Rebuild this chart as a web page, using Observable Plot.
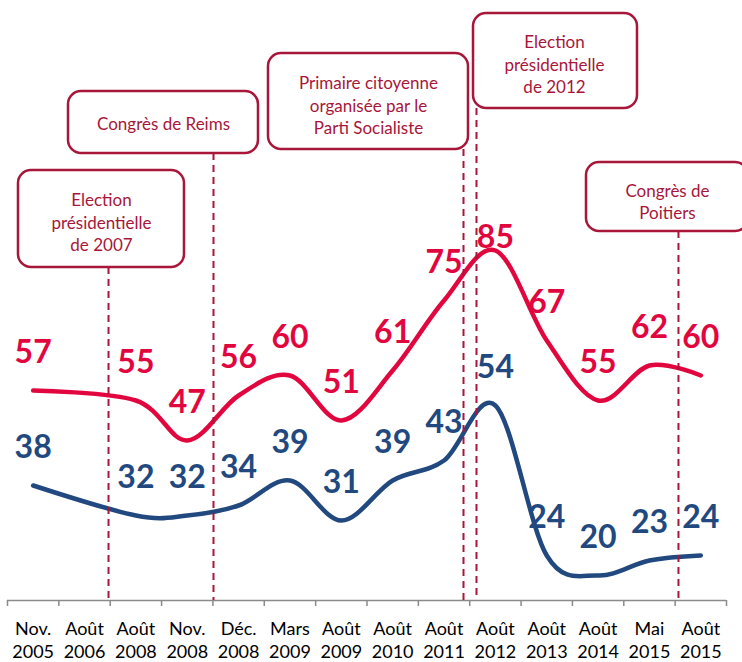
<!DOCTYPE html>
<html>
<head>
<meta charset="utf-8">
<script src="https://cdn.jsdelivr.net/npm/d3@7"></script>
<script src="https://cdn.jsdelivr.net/npm/@observablehq/plot@0.6"></script>
<style>
  body { margin: 0; background: #fff; }
  #chart svg { display: block; }
</style>
</head>
<body>
<div id="chart"></div>
<script>
// Categories (x axis)
const categories = ["Nov.\n2005", "Août\n2006", "Août\n2008", "Nov.\n2008", "Déc.\n2008", "Mars\n2009",
  "Août\n2009", "Août\n2010", "Août\n2011", "Août\n2012", "Août\n2013", "Août\n2014", "Mai\n2015", "Août\n2015"];
// Series values (null = no survey)
const redValues  = [57, null, 55, 47, 56, 60, 51, 61, 75, 85, 67, 55, 62, 60];
const blueValues = [38, null, 32, 32, 34, 39, 31, 39, 43, 54, 24, 20, 23, 24];

// Events: label and position on the category index axis
const eventLabels = ["Election\nprésidentielle\nde 2007", "Congrès de Reims",
  "Primaire citoyenne\norganisée par le\nParti Socialiste", "Election\nprésidentielle\nde 2012", "Congrès de\nPoitiers"];
const eventPositions = [1.467, 3.511, 8.379, 8.632, 12.565];

// Annotation box layout (in scale units)
const boxLayout = [
  {x1: -0.286, x2: 2.946, y1: 81.6, y2: 101.0, tx: 1.33, ty: 90.8},
  {x1: 0.688, x2: 4.387, y1: 104.4, y2: 116.8, tx: 2.538, ty: 110.6},
  {x1: 4.582, x2: 8.476, y1: 105.2, y2: 124.4, tx: 6.529, ty: 114.2},
  {x1: 8.574, x2: 11.767, y1: 113.4, y2: 132.4, tx: 10.151, ty: 122.4},
  {x1: 10.774, x2: 13.928, y1: 88.8, y2: 102.6, tx: 12.351, ty: 94.9}
];

const RED = "#E2063F";
const BLUE = "#22497F";
const ANNOT = "#A8163A";
const AXIS = "#8a8a8a";

const idx = categories.map((_, i) => i);
const boundaries = [-0.5, ...idx.map(i => i + 0.5)];
const toRows = vals => vals.map((v, i) => ({i, v})).filter(d => d.v != null);
const red = toRows(redValues);
const blue = toRows(blueValues);
const events = eventLabels.map((label, k) => ({label, at: eventPositions[k], ...boxLayout[k]}));

const chart = Plot.plot({
  width: 742,
  height: 662,
  marginLeft: 7,
  marginRight: 16,
  marginTop: 0,
  marginBottom: 62,
  x: {type: "linear", domain: [-0.5, 13.5]},
  y: {domain: [15, 135], axis: null},
  style: {fontFamily: "Lato, 'Open Sans', sans-serif", background: "#fff"},
  marks: [
    Plot.axisX({ticks: idx, tickFormat: i => categories[i], tickSize: 0, tickPadding: 18,
      fontSize: 18, lineHeight: 1.27, fill: "#000", anchor: "bottom"}),
    Plot.ruleY([15], {stroke: AXIS, strokeWidth: 1.5}),
    Plot.ruleX(boundaries, {x: d => d, y1: 15, y2: 13.8, stroke: AXIS, strokeWidth: 1.5}),
    Plot.line(red, {x: "i", y: "v", curve: "cardinal", stroke: RED, strokeWidth: 4.5}),
    Plot.line(blue, {x: "i", y: "v", curve: "cardinal", stroke: BLUE, strokeWidth: 4.5}),
    Plot.text(red.filter(d => d.i !== 9), {x: "i", y: "v", text: d => String(d.v), dy: -38,
      fill: RED, fontSize: 32, fontWeight: "bold", lineAnchor: "middle"}),
    Plot.text(red.filter(d => d.i === 9), {x: "i", y: "v", text: d => String(d.v), dy: -13,
      fill: RED, fontSize: 32, fontWeight: "bold", lineAnchor: "middle"}),
    Plot.text(blue, {x: "i", y: "v", text: d => String(d.v), dy: -38,
      fill: BLUE, fontSize: 32, fontWeight: "bold", lineAnchor: "middle"}),
    Plot.ruleX(events, {x: "at", y1: "y1", y2: 15, stroke: ANNOT, strokeWidth: 2, strokeDasharray: "7,5"}),
    Plot.rect(events, {x1: "x1", x2: "x2", y1: "y1", y2: "y2", rx: 13, fill: "#fff", stroke: ANNOT, strokeWidth: 2.5}),
    Plot.text(events, {x: "tx", y: "ty", text: "label", fill: ANNOT, fontSize: 17, lineHeight: 1.3, lineAnchor: "middle"})
  ]
});
document.getElementById("chart").appendChild(chart);
</script>
</body>
</html>
